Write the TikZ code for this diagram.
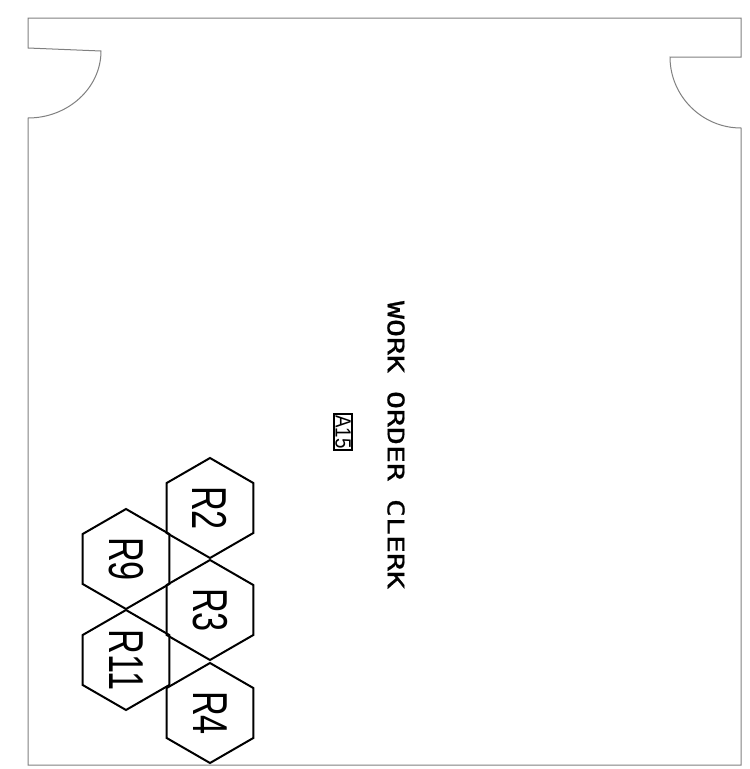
\documentclass[tikz,border=0pt]{standalone}
\usepackage{fontspec}
\setmainfont{Liberation Sans}
\newfontfamily\cadfont[FakeBold=0.8]{DejaVu Sans Mono}
\usetikzlibrary{shapes.geometric}
\tikzset{
  outline/.style={draw=black!50, line width=1pt},
  hexcell/.style={regular polygon, regular polygon sides=6, draw=black, line width=2pt,
    minimum size=100pt, inner sep=0pt, outer sep=0pt, rotate=-90,
    font=\fontsize{49}{49}\selectfont},
  tagbox/.style={draw=black, line width=1.4pt, rotate=-90, inner sep=1.5pt,
    font=\fontsize{22}{22}\selectfont},
  roomlabel/.style={rotate=-90, font=\cadfont\fontsize{23}{23}\selectfont}
}
\begin{document}
\begin{tikzpicture}[x=1pt,y=-1pt]
\useasboundingbox[fill=white] (0,0) rectangle (750,769);
% outline of the room
\draw[outline] (28,765) -- (28,118) .. controls (68,118) and (101,88) .. (101,51)
  -- (28,48) -- (28,18) -- (741,18) -- (741,57) -- (670,57)
  .. controls (670,96) and (702,128) .. (741,128) -- (741,765) -- cycle;
% hexagons
\node[hexcell] (r2) at (210,508) {\scalebox{0.7}[1]{R2}};
\node[hexcell] (r9) at (126,559) {\scalebox{0.7}[1]{R9}};
\node[hexcell] (r3) at (210,610) {\scalebox{0.7}[1]{R3}};
\node[hexcell] (r11) at (126,660) {\scalebox{0.7}[1]{R11}};
\node[hexcell] (r4) at (210,713) {\scalebox{0.7}[1]{R4}};
% labels
\node[tagbox] (a15) at (343,432) {\scalebox{0.85}[1]{A15}};
\node[roomlabel] (name) at (396,445) {\scalebox{1.3}[1]{WORK ORDER CLERK}};
\end{tikzpicture}
\end{document}
